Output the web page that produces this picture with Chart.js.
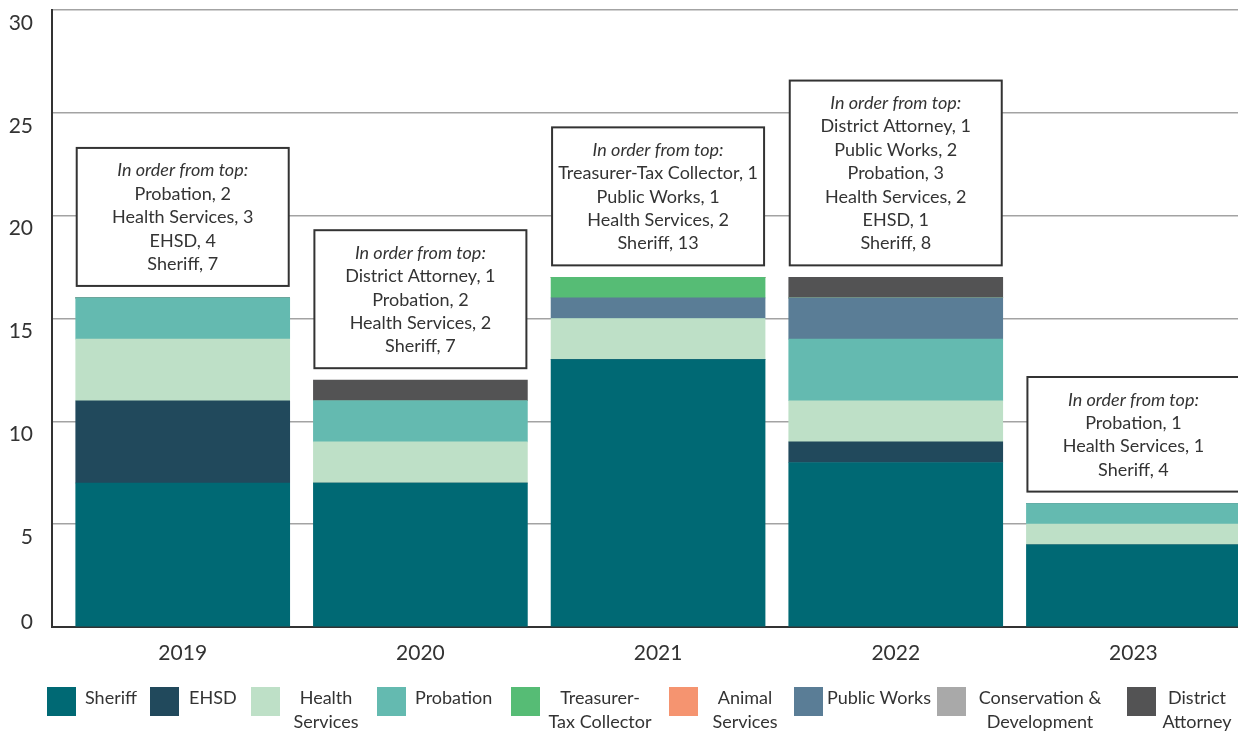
<!DOCTYPE html>
<html>
<head>
<meta charset="utf-8">
<script src="https://cdn.jsdelivr.net/npm/chart.js@4/dist/chart.umd.min.js"></script>
<style>
  html, body { margin: 0; padding: 0; background: #fff; overflow: hidden; }
  canvas { display: block; }
</style>
</head>
<body>
<canvas id="c" width="1238" height="731"></canvas>
<script>
// ---- DATA ----
const years = ['2019', '2020', '2021', '2022', '2023'];
const yTicks = [0, 5, 10, 15, 20, 25, 30];

const sheriff      = [7, 7, 13, 8, 4];
const ehsd         = [4, 0, 0, 1, 0];
const health       = [3, 2, 2, 2, 1];
const probation    = [2, 2, 0, 3, 1];
const publicWorks  = [0, 0, 1, 2, 0];
const treasurer    = [0, 0, 1, 0, 0];
const animal       = [0, 0, 0, 0, 0];
const conservation = [0, 0, 0, 0, 0];
const districtAtty = [0, 1, 0, 1, 0];

const noteHeading = 'In order from top:';

// stacking order (bottom to top)
const series = [
  { name: 'Sheriff',                 data: sheriff,      color: '#006974' },
  { name: 'EHSD',                    data: ehsd,         color: '#21495c' },
  { name: 'Health Services',         data: health,       color: '#bee0c7' },
  { name: 'Probation',               data: probation,    color: '#64bab0' },
  { name: 'Public Works',            data: publicWorks,  color: '#5a7d96' },
  { name: 'Treasurer-Tax Collector', data: treasurer,    color: '#56bc75' },
  { name: 'Animal Services',         data: animal,       color: '#f59470' },
  { name: 'Conservation & Development', data: conservation, color: '#a9a9a9' },
  { name: 'District Attorney',       data: districtAtty, color: '#535354' }
];

// legend order and wrapping
const legendNames = ['Sheriff', 'EHSD', 'Health Services', 'Probation', 'Treasurer-Tax Collector',
                     'Animal Services', 'Public Works', 'Conservation & Development', 'District Attorney'];
const legendLines = [['Sheriff'], ['EHSD'], ['Health', 'Services'], ['Probation'], ['Treasurer-', 'Tax Collector'],
                     ['Animal', 'Services'], ['Public Works'], ['Conservation &', 'Development'], ['District', 'Attorney']];

// ---- LAYOUT (styles) ----
const FONT = 'Lato, "Open Sans", sans-serif';
const TEXT = '#333333';
const legendGeom = [
  { sx: 47,   tx: 85,   align: 'left' },
  { sx: 150,  tx: 189,  align: 'left' },
  { sx: 251,  tx: 326,  align: 'center' },
  { sx: 377,  tx: 415,  align: 'left' },
  { sx: 511,  tx: 600,  align: 'center' },
  { sx: 669,  tx: 745,  align: 'center' },
  { sx: 794,  tx: 827,  align: 'left' },
  { sx: 937,  tx: 1040, align: 'center' },
  { sx: 1127, tx: 1197, align: 'center' }
];

const datasets = series.map(s => ({
  label: s.name,
  data: s.data.map((v, i) => ({ x: i, y: v })),
  backgroundColor: s.color,
  borderWidth: 0,
  barThickness: 214
}));

const yLabelsPlugin = {
  id: 'yLabels',
  afterDraw(chart) {
    const ctx = chart.ctx;
    const ys = chart.scales.y;
    ctx.save();
    ctx.font = '21px ' + FONT;
    ctx.fillStyle = TEXT;
    ctx.textAlign = 'right';
    ctx.textBaseline = 'middle';
    yTicks.forEach(v => {
      const py = ys.getPixelForValue(v) + (v === 0 ? -5 : 13);
      ctx.fillText(String(v), 33, py);
    });
    ctx.restore();
  }
};

const notesPlugin = {
  id: 'notes',
  afterDatasetsDraw(chart) {
    const ctx = chart.ctx;
    const ys = chart.scales.y;
    const meta0 = chart.getDatasetMeta(0);
    const lineH = 23.4;
    ctx.save();
    years.forEach((yr, i) => {
      const lines = [];
      let total = 0;
      for (let k = series.length - 1; k >= 0; k--) {
        const v = series[k].data[i];
        if (v > 0) lines.push(series[k].name + ', ' + v);
        total += v;
      }
      const bar = meta0.data[i];
      const left = bar.x - bar.width / 2 + 1;
      const right = bar.x + bar.width / 2 - 1;
      const n = lines.length + 1;
      const h = n * lineH + 21;
      const bottom = ys.getPixelForValue(total) - 12;
      const top = bottom - h;
      ctx.fillStyle = '#ffffff';
      ctx.fillRect(left, top, right - left, h);
      ctx.strokeStyle = '#333333';
      ctx.lineWidth = 2;
      ctx.strokeRect(left, top, right - left, h);
      ctx.fillStyle = TEXT;
      ctx.textAlign = 'center';
      ctx.textBaseline = 'middle';
      const cx = (left + right) / 2;
      ctx.font = 'italic 18px ' + FONT;
      ctx.fillText(noteHeading, cx, top + 11 + lineH / 2);
      ctx.font = '18px ' + FONT;
      lines.forEach((t, j) => {
        ctx.fillText(t, cx, top + 11 + lineH / 2 + (j + 1) * lineH);
      });
    });
    ctx.restore();
  }
};

const legendPlugin = {
  id: 'customLegend',
  afterDraw(chart) {
    const ctx = chart.ctx;
    ctx.save();
    ctx.font = '18px ' + FONT;
    ctx.textBaseline = 'middle';
    legendNames.forEach((nm, i) => {
      const s = series.find(q => q.name === nm);
      const g = legendGeom[i];
      ctx.fillStyle = s.color;
      ctx.fillRect(g.sx, 687, 29, 29);
      ctx.fillStyle = TEXT;
      ctx.textAlign = g.align;
      legendLines[i].forEach((t, j) => {
        ctx.fillText(t, g.tx, 698 + j * 24);
      });
    });
    ctx.restore();
  }
};

new Chart(document.getElementById('c'), {
  type: 'bar',
  data: { datasets },
  options: {
    responsive: false,
    animation: false,
    layout: { padding: { top: 10, right: 0, bottom: 0, left: 0 } },
    plugins: { legend: { display: false }, tooltip: { enabled: false } },
    scales: {
      x: {
        type: 'linear',
        stacked: true,
        offset: false,
        min: -0.55,
        max: 4.44,
        afterBuildTicks(scale) { scale.ticks = years.map((_, i) => ({ value: i })); },
        afterFit(scale) { scale.height = 104; },
        grid: { display: false, drawTicks: false },
        border: { display: true, color: '#333333', width: 2 },
        ticks: {
          autoSkip: false,
          maxRotation: 0,
          padding: 14,
          color: TEXT,
          font: { family: FONT, size: 21 },
          callback: (v) => years[v]
        }
      },
      y: {
        stacked: true,
        min: 0,
        max: 30,
        afterFit(scale) { scale.width = 52; },
        ticks: { display: false, stepSize: 5 },
        grid: { color: '#a3a3a3', lineWidth: 1.5, drawTicks: false },
        border: { display: true, color: '#333333', width: 2 }
      }
    }
  },
  plugins: [yLabelsPlugin, notesPlugin, legendPlugin]
});
</script>
</body>
</html>
